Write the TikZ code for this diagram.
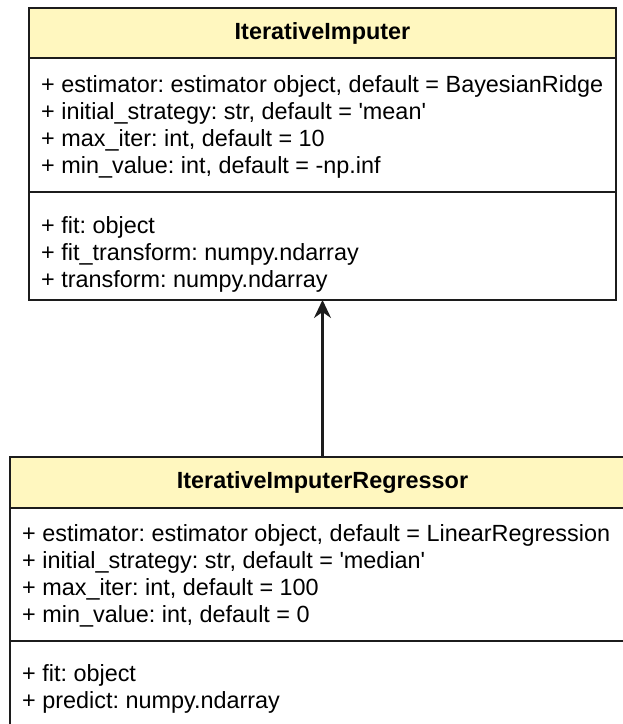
\documentclass[tikz,border=0pt]{standalone}
\usepackage{fontspec}
\setmainfont{Liberation Sans}
\usetikzlibrary{arrows.meta}
\frenchspacing
\definecolor{umlhead}{RGB}{255,247,191}
\definecolor{umlline}{RGB}{28,28,28}
\tikzset{
  x=1pt, y=-1pt,
  compart/.style={draw=umlline, line width=2.4pt, inner sep=0pt, outer sep=0pt,
                  minimum width=#1},
  headbox/.style={compart=#1, fill=umlhead,
                  font=\fontsize{23.4}{27}\selectfont\bfseries},
  bodybox/.style={compart=#1, fill=white},
  member/.style={anchor=base west, inner sep=0pt, font=\fontsize{23.4}{27}\selectfont},
  inherit/.style={draw=umlline, line width=2.2pt,
                  -{Stealth[length=18pt, width=17pt, inset=6pt]}},
}
\begin{document}
\begin{tikzpicture}
  \useasboundingbox (0,0) rectangle (623,724);
  \clip (0,0) rectangle (623,724);

  % base class
  \node[headbox=587pt, minimum height=50pt]  (tophead) at (322.5,33)  {IterativeImputer};
  \node[bodybox=587pt, minimum height=134pt] (topattr) at (322.5,125) {};
  \node[bodybox=587pt, minimum height=108pt] (topops)  at (322.5,246) {};
  \foreach \t [count=\i] in {
      {+ estimator: estimator object, default = BayesianRidge},
      {+ initial\_strategy: str, default = \textquotesingle mean\textquotesingle},
      {+ max\_iter: int, default = 10},
      {+ min\_value: int, default = -np.inf}}
    \node[member] (topa\i) at (41, 92.7+27*\i-27) {\t};
  \foreach \t [count=\i] in {
      {+ fit: object},
      {+ fit\_transform: numpy.ndarray},
      {+ transform: numpy.ndarray}}
    \node[member] (topo\i) at (41, 233.4+27*\i-27) {\t};

  % derived class
  \node[headbox=625pt, minimum height=51pt]  (subhead) at (322.5,482.5) {IterativeImputerRegressor};
  \node[bodybox=625pt, minimum height=133pt] (subattr) at (322.5,574.5) {};
  \node[bodybox=625pt, minimum height=120pt] (subops)  at (322.5,701)   {};
  \foreach \t [count=\i] in {
      {+ estimator: estimator object, default = LinearRegression},
      {+ initial\_strategy: str, default = \textquotesingle median\textquotesingle},
      {+ max\_iter: int, default = 100},
      {+ min\_value: int, default = 0}}
    \node[member] (suba\i) at (22, 541.6+27*\i-27) {\t};
  \foreach \t [count=\i] in {
      {+ fit: object},
      {+ predict: numpy.ndarray}}
    \node[member] (subo\i) at (22, 681.6+27*\i-27) {\t};

  % generalization
  \draw[inherit] (subhead.north) -- (topops.south);
\end{tikzpicture}
\end{document}
